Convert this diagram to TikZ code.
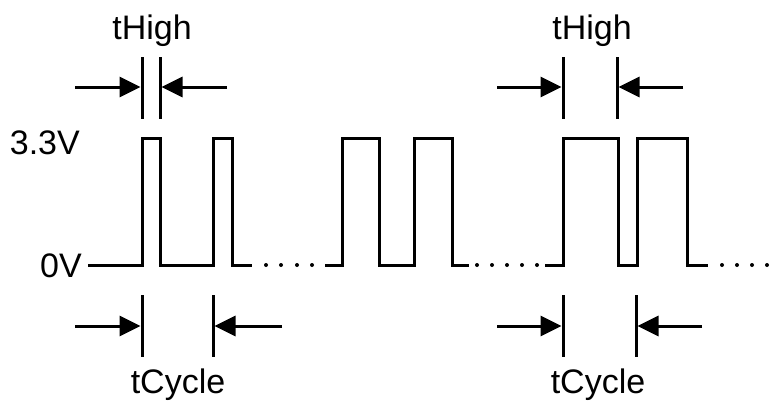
\documentclass[tikz,border=0pt]{standalone}
\usepackage{fontspec}
\setmainfont{Liberation Sans}
\usetikzlibrary{arrows.meta}
\begin{document}
\begin{tikzpicture}[x=1pt,y=-1pt,
  wave/.style={line width=3pt,line join=miter},
  marker/.style={line width=3pt},
  dimarrow/.style={line width=3pt,-{Triangle[length=21pt,width=20pt]}},
  gapdot/.style={fill=black,draw=none},
  lbl/.style={inner sep=0pt,font=\fontsize{34}{40}\selectfont}]
\useasboundingbox (0,0) rectangle (777,402);

% level labels
\node[lbl,anchor=base east] (v33) at (80,154) {3.3V};
\node[lbl,anchor=base east] (v0) at (82,277) {0V};

% pulse train, three groups separated by dotted gaps
\draw[wave] (88,265) -- (142,265) -- (142,138) -- (160,138) -- (160,265)
  -- (213,265) -- (213,138) -- (232,138) -- (232,265) -- (252,265);
\draw[wave] (325,265) -- (342,265) -- (342,138) -- (379,138) -- (379,265)
  -- (414,265) -- (414,138) -- (452,138) -- (452,265) -- (469,265);
\draw[wave] (545,265) -- (563,265) -- (563,138) -- (618,138) -- (618,265)
  -- (637,265) -- (637,138) -- (687,138) -- (687,265) -- (708,265);
\foreach \x in {266,281,297,312, 477,492,507,522,537, 722,737,752,767}
  \fill[gapdot] (\x,265) circle (2pt);

% tHigh, first group
\coordinate (h1a) at (142,87);
\coordinate (h1b) at (160,87);
\coordinate (h1l) at (75,87);
\coordinate (h1r) at (227,87);
\draw[marker] (142,57) -- (142,119);
\draw[marker] (160,57) -- (160,119);
\draw[dimarrow] (h1l) -- ([xshift=-1.5pt]h1a);
\draw[dimarrow] (h1r) -- ([xshift=1.5pt]h1b);
\node[lbl,anchor=base] (th1) at (152,39) {tHigh};

% tHigh, last group
\coordinate (h2a) at (563,87);
\coordinate (h2b) at (617,87);
\coordinate (h2l) at (497,87);
\coordinate (h2r) at (683,87);
\draw[marker] (563,57) -- (563,119);
\draw[marker] (617,57) -- (617,119);
\draw[dimarrow] (h2l) -- ([xshift=-1.5pt]h2a);
\draw[dimarrow] (h2r) -- ([xshift=1.5pt]h2b);
\node[lbl,anchor=base] (th2) at (592,39) {tHigh};

% tCycle, first group
\coordinate (c1a) at (142,326);
\coordinate (c1b) at (213,326);
\coordinate (c1l) at (75,326);
\coordinate (c1r) at (282,326);
\draw[marker] (142,295) -- (142,357);
\draw[marker] (213,295) -- (213,357);
\draw[dimarrow] (c1l) -- ([xshift=-1.5pt]c1a);
\draw[dimarrow] (c1r) -- ([xshift=1.5pt]c1b);
\node[lbl,anchor=base] (tc1) at (178,393) {tCycle};

% tCycle, last group
\coordinate (c2a) at (563,326);
\coordinate (c2b) at (636,326);
\coordinate (c2l) at (497,326);
\coordinate (c2r) at (702,326);
\draw[marker] (563,295) -- (563,357);
\draw[marker] (636,295) -- (636,357);
\draw[dimarrow] (c2l) -- ([xshift=-1.5pt]c2a);
\draw[dimarrow] (c2r) -- ([xshift=1.5pt]c2b);
\node[lbl,anchor=base] (tc2) at (598,393) {tCycle};
\end{tikzpicture}
\end{document}
